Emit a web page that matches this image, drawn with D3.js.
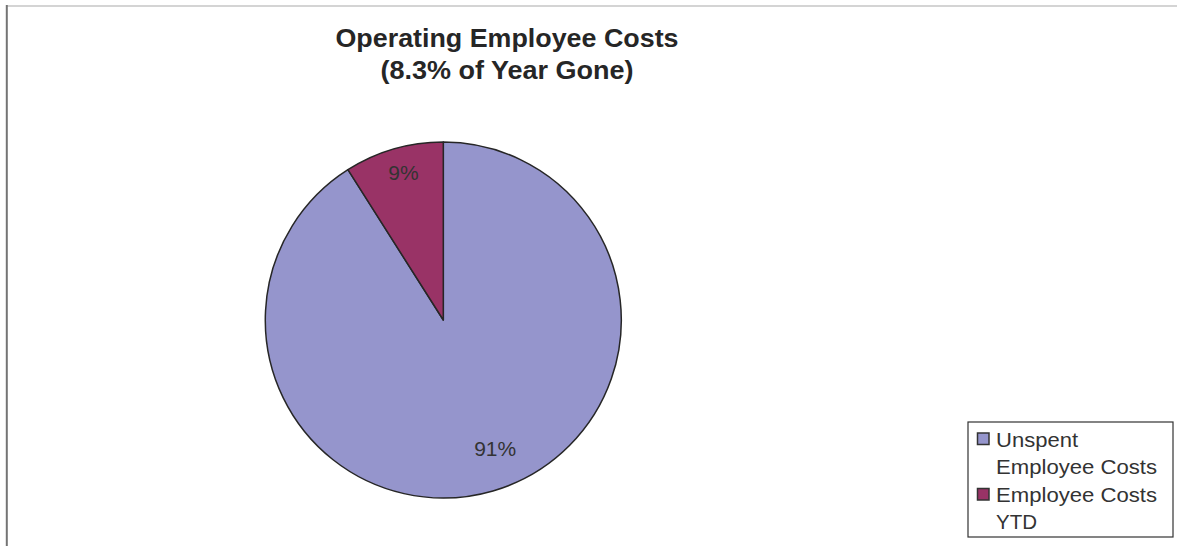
<!DOCTYPE html>
<html>
<head>
<meta charset="utf-8">
<script src="https://cdn.jsdelivr.net/npm/d3@7/dist/d3.min.js"></script>
<style>
  html, body { margin: 0; padding: 0; background: #fff; }
  svg { display: block; font-family: "Liberation Sans", Arial, sans-serif; }
</style>
</head>
<body>
<svg id="chart" width="1177" height="546"></svg>
<script>
// Chart data
const categories = ["Unspent Employee Costs", "Employee Costs YTD"];
const values = [91, 9];
const legendLines = [["Unspent", "Employee Costs"], ["Employee Costs", "YTD"]];
const titleLines = ["Operating Employee Costs", "(8.3% of Year Gone)"];

const colors = d3.scaleOrdinal().domain(categories).range(["#9595cc", "#993366"]);

const svg = d3.select("#chart");
const W = 1177, H = 546;

// frame edges
svg.append("line").attr("x1", 6).attr("x2", W).attr("y1", 6).attr("y2", 6)
  .attr("stroke", "#d4d4d4").attr("stroke-width", 2);
svg.append("line").attr("x1", 6.8).attr("x2", 6.8).attr("y1", 5).attr("y2", H)
  .attr("stroke", "#747474").attr("stroke-width", 2);

// title
const titleWidths = [343, 253];
svg.append("g").selectAll("text").data(titleLines).join("text")
  .attr("x", 507)
  .attr("y", (d, i) => 46.5 + i * 32.5)
  .attr("text-anchor", "middle")
  .attr("font-size", 25)
  .attr("font-weight", "bold")
  .attr("fill", "#262626")
  .attr("textLength", (d, i) => titleWidths[i])
  .attr("lengthAdjust", "spacingAndGlyphs")
  .text(d => d);

// pie
const cx = 443.3, cy = 320, R = 178;
const pie = d3.pie().sort(null).value(d => d.value);
const arcs = pie(categories.map((c, i) => ({ name: c, value: values[i] })));
const arc = d3.arc().innerRadius(0).outerRadius(R);
const total = d3.sum(values);

const g = svg.append("g").attr("transform", `translate(${cx},${cy})`);
g.selectAll("path").data(arcs).join("path")
  .attr("d", arc)
  .attr("fill", d => colors(d.data.name))
  .attr("stroke", "#262626")
  .attr("stroke-width", 1.5)
  .attr("stroke-linejoin", "round");

// percentage labels: radial distance and angular nudge per slice
const labelPlace = [{ k: 0.78, shift: -0.1 }, { k: 0.86, shift: 0.02 }];
g.selectAll("text").data(arcs).join("text")
  .each(function (d, i) {
    const p = labelPlace[i];
    const a = (d.startAngle + d.endAngle) / 2 + p.shift;
    const r = R * p.k;
    d3.select(this)
      .attr("x", Math.sin(a) * r)
      .attr("y", -Math.cos(a) * r);
  })
  .attr("text-anchor", "middle")
  .attr("dy", "0.35em")
  .attr("font-size", 21)
  .attr("fill", "#333")
  .text(d => Math.round(d.data.value / total * 100) + "%");

// legend
const lg = svg.append("g");
lg.append("rect").attr("x", 968).attr("y", 422).attr("width", 205).attr("height", 115)
  .attr("fill", "#fff").attr("stroke", "#333").attr("stroke-width", 1.2);
const lineWidths = { "Unspent": 82, "Employee Costs": 161, "YTD": 41 };
const items = lg.selectAll("g.item").data(categories).join("g")
  .attr("class", "item")
  .attr("transform", (d, i) => `translate(977,${433 + i * 55.5})`);
items.append("rect").attr("x", 0.5).attr("y", 0).attr("width", 11.5).attr("height", 11.5)
  .attr("fill", d => colors(d)).attr("stroke", "#333").attr("stroke-width", 1.5);
items.each(function (d, i) {
  d3.select(this).selectAll("text").data(legendLines[i]).join("text")
    .attr("x", 19)
    .attr("y", (t, j) => 13.7 + j * 26.8)
    .attr("font-size", 20)
    .attr("fill", "#333")
    .attr("textLength", t => lineWidths[t])
    .attr("lengthAdjust", "spacingAndGlyphs")
    .text(t => t);
});
</script>
</body>
</html>
